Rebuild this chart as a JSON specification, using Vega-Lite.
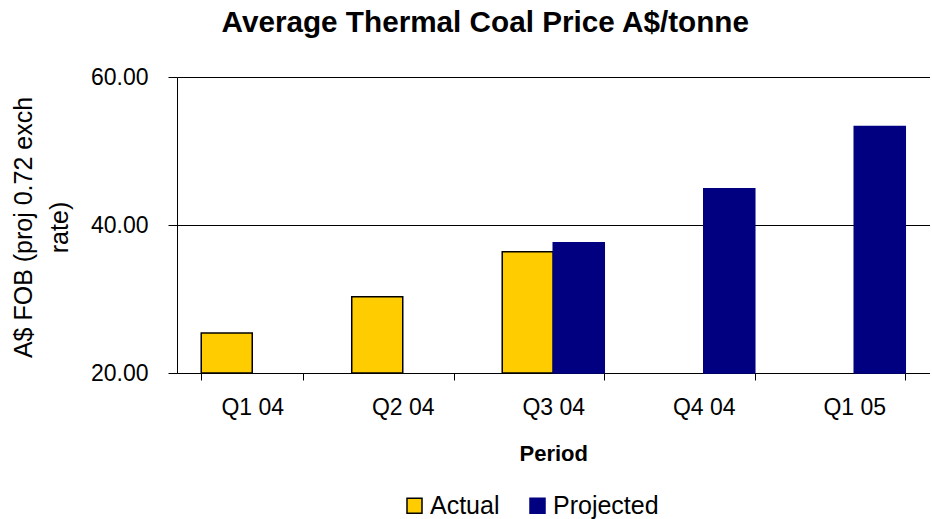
{
  "$schema": "https://vega.github.io/schema/vega-lite/v6.json",
  "autosize": {"type": "none"},
  "width": 752.5,
  "height": 296,
  "padding": {"left": 177, "top": 77, "right": 2.5, "bottom": 146},
  "background": "white",
  "config": {
    "font": "Liberation Sans",
    "view": {"stroke": null},
    "axis": {"labelColor": "black", "titleColor": "black", "domainColor": "black", "tickColor": "black", "labelFont": "Liberation Sans", "titleFont": "Liberation Sans"}
  },
  "title": {
    "text": "Average Thermal Coal Price A$/tonne",
    "font": "Liberation Sans",
    "fontSize": 29.7,
    "fontWeight": "bold",
    "color": "black",
    "anchor": "middle",
    "frame": "group",
    "dx": -68,
    "offset": 27
  },
  "data": {
    "values": [
      {"period": "Q1 04", "series": "Actual", "value": 25.4},
      {"period": "Q2 04", "series": "Actual", "value": 30.3},
      {"period": "Q3 04", "series": "Actual", "value": 36.4},
      {"period": "Q3 04", "series": "Projected", "value": 37.6},
      {"period": "Q4 04", "series": "Projected", "value": 44.9},
      {"period": "Q1 05", "series": "Projected", "value": 53.3}
    ]
  },
  "mark": {"type": "bar", "strokeWidth": 1.5},
  "encoding": {
    "x": {
      "field": "period",
      "type": "nominal",
      "sort": ["Q1 04", "Q2 04", "Q3 04", "Q4 04", "Q1 05"],
      "scale": {"paddingInner": 0.322, "paddingOuter": 0.161},
      "axis": {
        "title": "Period",
        "titleFontSize": 22,
        "titleFontWeight": "bold",
        "titleBaseline": "alphabetic",
        "titleY": 87,
        "labelAngle": 0,
        "labelFontSize": 23,
        "labelPadding": 16,
        "tickSize": 7,
        "tickBand": "extent",
        "domainWidth": 1,
        "grid": false
      }
    },
    "xOffset": {
      "field": "series",
      "type": "nominal",
      "scale": {"domain": ["Actual", "Projected"], "paddingInner": 0, "paddingOuter": 0}
    },
    "y": {
      "field": "value",
      "type": "quantitative",
      "scale": {"domain": [20, 60], "zero": false, "nice": false},
      "axis": {
        "title": ["A$ FOB (proj 0.72 exch", "rate)"],
        "titleFontSize": 25,
        "titleFontWeight": "normal",
        "titleLineHeight": 36,
        "titleBaseline": "alphabetic",
        "titleX": -146,
        "titleY": 150,
        "values": [20, 40, 60],
        "format": ".2f",
        "labelFontSize": 23,
        "labelPadding": 20,
        "tickSize": 9,
        "grid": true,
        "gridColor": "black",
        "gridOpacity": 1,
        "gridWidth": 1
      }
    },
    "y2": {"datum": 20},
    "fill": {
      "field": "series",
      "type": "nominal",
      "scale": {"domain": ["Actual", "Projected"], "range": ["#FFCC00", "#000080"]},
      "legend": {
        "title": null,
        "orient": "none",
        "direction": "horizontal",
        "legendX": 225,
        "legendY": 416,
        "symbolType": "square",
        "symbolSize": 225,
        "symbolStrokeWidth": 1.5,
        "labelFontSize": 25,
        "labelColor": "black",
        "labelOffset": 3,
        "columnPadding": 25,
        "padding": 0
      }
    },
    "stroke": {
      "field": "series",
      "type": "nominal",
      "scale": {"domain": ["Actual", "Projected"], "range": ["black", "#000080"]},
      "legend": null
    }
  }
}
